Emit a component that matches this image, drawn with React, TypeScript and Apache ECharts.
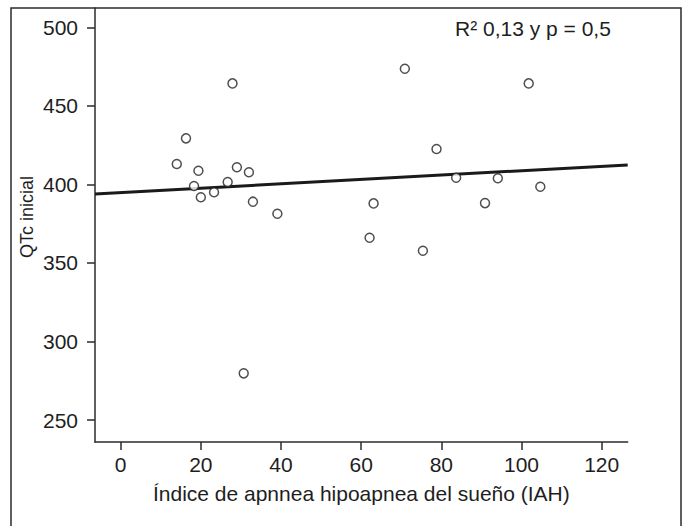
import React, { useEffect, useRef } from "react";
import * as echarts from "echarts";

const iahValues = [27.9, 16.3, 14.0, 19.4, 29.0, 32.0, 18.3, 26.7, 20.0, 23.3, 33.0, 39.1, 30.7, 63.1, 62.1, 75.4, 70.9, 101.8, 78.8, 83.7, 94.1, 104.7, 90.9];
const qtcValues = [464.3, 429.3, 413.0, 408.7, 410.9, 407.7, 399.0, 401.5, 391.8, 395.0, 389.0, 381.3, 279.7, 387.9, 366.0, 357.8, 473.6, 464.3, 422.5, 404.2, 403.9, 398.5, 388.1];
const fitX = [-6.4, 126.5];
const fitY = [393.9, 412.4];
const xTicks = [0, 20, 40, 60, 80, 100, 120];
const yTicks = [250, 300, 350, 400, 450, 500];
const xTitle = "Índice de apnnea hipoapnea del sueño (IAH)";
const yTitle = "QTc inicial";
const statText = "R² 0,13 y p = 0,5";

export default function App() {
  const ref = useRef<HTMLDivElement>(null);
  useEffect(() => {
    if (!ref.current) return;
    const chart = echarts.init(ref.current, null, { renderer: "svg" });
    const font = "'Liberation Sans', Arial, Helvetica, sans-serif";
    const axisColor = "#2b2b2b";
    const textColor = "#1e1e1e";
    chart.setOption({
      animation: false,
      backgroundColor: "#ffffff",
      textStyle: { fontFamily: font },
      grid: { left: 95, top: 8, right: 58.3, bottom: 84, containLabel: false },
      xAxis: {
        type: "value",
        min: fitX[0],
        max: fitX[1],
        name: xTitle,
        nameLocation: "middle",
        nameGap: 41,
        nameTextStyle: { fontSize: 21, color: textColor, fontFamily: font },
        axisLine: { show: true, onZero: false, lineStyle: { color: axisColor, width: 1.5 } },
        axisTick: { show: true, length: 8, inside: false, customValues: xTicks, lineStyle: { color: axisColor, width: 1.5 } },
        axisLabel: { customValues: xTicks, fontSize: 21, color: textColor, margin: 12, fontFamily: font },
        splitLine: { show: false },
      },
      yAxis: {
        type: "value",
        min: 236,
        max: 512.3,
        axisLine: { show: true, onZero: false, lineStyle: { color: axisColor, width: 1.5 } },
        axisTick: { show: true, length: 8, inside: false, customValues: yTicks, lineStyle: { color: axisColor, width: 1.5 } },
        axisLabel: { customValues: yTicks, fontSize: 21, color: textColor, margin: 17, fontFamily: font },
        splitLine: { show: false },
      },
      graphic: [
        {
          type: "rect",
          shape: { x: 11, y: 8, width: 670, height: 540 },
          style: { fill: "none", stroke: "#2b2b2b", lineWidth: 1.5 },
          silent: true,
          z: 0,
        },
        {
          type: "text",
          x: 27,
          y: 217,
          rotation: Math.PI / 2,
          style: { text: yTitle, fontSize: 18, fill: textColor, fontFamily: font, align: "center", verticalAlign: "middle" },
        },
        {
          type: "text",
          x: 455,
          y: 28,
          style: { text: statText, fontSize: 21, fill: textColor, fontFamily: font, align: "left", verticalAlign: "middle" },
        },
      ],
      series: [
        {
          type: "line",
          data: fitX.map((x, i) => [x, fitY[i]]),
          showSymbol: false,
          symbol: "none",
          lineStyle: { color: "#1a1a1a", width: 3 },
          z: 2,
        },
        {
          type: "scatter",
          data: iahValues.map((x, i) => [x, qtcValues[i]]),
          symbol: "circle",
          symbolSize: 9,
          itemStyle: { color: "#ffffff", borderColor: "#222", borderWidth: 1.5 },
          z: 3,
        },
      ],
    });
    return () => chart.dispose();
  }, []);
  return <div ref={ref} style={{ position: "fixed", left: 0, top: 0, width: 686, height: 526 }} />;
}
